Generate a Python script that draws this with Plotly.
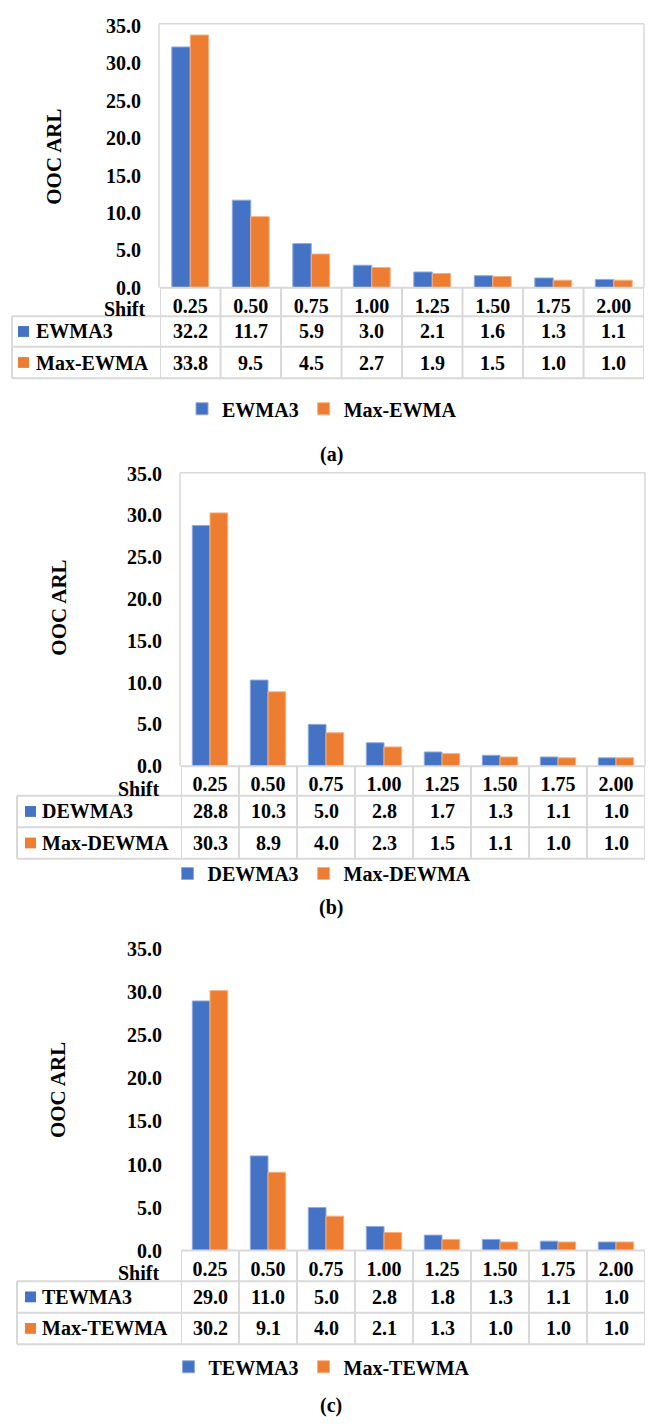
import plotly.graph_objects as go

# ---- data ----
shifts = ["0.25", "0.50", "0.75", "1.00", "1.25", "1.50", "1.75", "2.00"]

ewma3 = [32.2, 11.7, 5.9, 3.0, 2.1, 1.6, 1.3, 1.1]
max_ewma = [33.8, 9.5, 4.5, 2.7, 1.9, 1.5, 1.0, 1.0]

dewma3 = [28.8, 10.3, 5.0, 2.8, 1.7, 1.3, 1.1, 1.0]
max_dewma = [30.3, 8.9, 4.0, 2.3, 1.5, 1.1, 1.0, 1.0]

tewma3 = [29.0, 11.0, 5.0, 2.8, 1.8, 1.3, 1.1, 1.0]
max_tewma = [30.2, 9.1, 4.0, 2.1, 1.3, 1.0, 1.0, 1.0]

W, H = 654, 1428
FONT = "'Liberation Serif', 'DejaVu Serif', serif"
BLUE = "#4472C4"
ORANGE = "#ED7D31"
GRID = "#D9D9D9"


def xp(px):
    return px / W


def yp(py):
    return 1 - py / H


def bold(s):
    return f"<b>{s}</b>"


def tfont(size=20):
    return dict(family=FONT, size=size, color="black")


# panel geometry in pixels
panels = [
    dict(names=("EWMA3", "Max-EWMA"), vals=(ewma3, max_ewma), caption="(a)",
         left=160, right=644, top=13, base=281, ymax=35.3, frame=True,
         tbl_left=12, rows=(310, 341, 373), sq_x=18, lab_x=34,
         shift_xy=(147, 303), title_xy=(54, 148), legend_y=404, caption_y=450),
    dict(names=("DEWMA3", "Max-DEWMA"), vals=(dewma3, max_dewma), caption="(b)",
         left=181, right=645, top=469, base=767, ymax=35.1, frame=True,
         tbl_left=17, rows=(797, 829, 861), sq_x=25, lab_x=40,
         shift_xy=(161, 790), title_xy=(59, 606), legend_y=876, caption_y=911),
    dict(names=("TEWMA3", "Max-TEWMA"), vals=(tewma3, max_tewma), caption="(c)",
         left=181, right=645, top=953, base=1259, ymax=35.0, frame=False,
         tbl_left=17, rows=(1290, 1322, 1354), sq_x=25, lab_x=40,
         shift_xy=(161, 1282), title_xy=(58, 1096), legend_y=1377, caption_y=1416),
]

fig = go.Figure()
shapes = []
annotations = []
xs = list(range(len(shifts)))

for k, p in enumerate(panels):
    n = "" if k == 0 else str(k + 1)
    xa, ya = "x" + n, "y" + n
    leg = "legend" + n
    colors = (BLUE, ORANGE)
    edges = ("#8FAADC", "#F4B183")

    for name, vals, c, e in zip(p["names"], p["vals"], colors, edges):
        fig.add_trace(go.Bar(
            x=xs, y=vals, name=bold(name), xaxis=xa, yaxis=ya, legend=leg,
            marker=dict(color=c, line=dict(color=e, width=1)),
            hovertemplate=name + ": %{y:.1f}<extra></extra>",
        ))

    fig.update_layout(**{
        ("xaxis" + n): dict(
            domain=[xp(p["left"]), xp(p["right"])], range=[-0.5, 7.5],
            anchor=ya, tickvals=xs, ticktext=[bold(s) for s in shifts],
            showgrid=False, zeroline=False, showline=False, ticks="",
            ticklabelstandoff=4, tickfont=tfont(), fixedrange=True,
        ),
        ("yaxis" + n): dict(
            domain=[yp(p["base"]), yp(p["top"])], range=[0, p["ymax"]],
            anchor=xa, tickvals=[0, 5, 10, 15, 20, 25, 30, 35],
            ticktext=[bold(f"{v:.1f}") for v in [0, 5, 10, 15, 20, 25, 30, 35]],
            showgrid=False, zeroline=False, showline=False, ticks="",
            ticklabelstandoff=18, tickfont=tfont(), fixedrange=True,
        ),
        leg: dict(
            orientation="h", x=xp(322), xanchor="center", y=yp(p["legend_y"]),
            yanchor="middle", bgcolor="rgba(0,0,0,0)", font=tfont(),
        ),
    })

    # plot-area border
    if p["frame"]:
        for x0, y0, x1, y1 in [
            (p["left"] - 1, p["top"], p["right"], p["top"]),
            (p["left"] - 1, p["top"], p["left"] - 1, p["base"]),
            (p["right"], p["top"], p["right"], p["base"]),
        ]:
            shapes.append(dict(type="line", xref="paper", yref="paper",
                               x0=xp(x0), y0=yp(y0), x1=xp(x1), y1=yp(y1),
                               line=dict(color=GRID, width=1.5)))

    # data table grid
    r_head, r1, r2 = p["rows"]
    tl = xp(p["tbl_left"])
    shapes.append(dict(type="line", xref=xa, yref="paper", x0=-0.5, x1=7.5,
                       y0=yp(p["base"]), y1=yp(p["base"]),
                       line=dict(color=GRID, width=2)))
    for yy in (r_head, r1, r2):
        shapes.append(dict(type="line", xref="paper", yref="paper",
                           x0=tl, x1=xp(p["right"]), y0=yp(yy), y1=yp(yy),
                           line=dict(color=GRID, width=2)))
    shapes.append(dict(type="line", xref="paper", yref="paper", x0=tl, x1=tl,
                       y0=yp(r_head), y1=yp(r2), line=dict(color=GRID, width=2)))
    for i in range(len(shifts) + 1):
        shapes.append(dict(type="line", xref=xa, yref="paper",
                           x0=i - 0.5, x1=i - 0.5, y0=yp(p["base"]), y1=yp(r2),
                           line=dict(color=GRID, width=2)))

    # row labels with colour keys, and the values
    for (row_top, row_bot), name, vals, c in zip(((r_head, r1), (r1, r2)),
                                                 p["names"], p["vals"], colors):
        yc = (row_top + row_bot) / 2
        shapes.append(dict(type="rect", xref="paper", yref="paper",
                           x0=xp(p["sq_x"]), x1=xp(p["sq_x"] + 11),
                           y0=yp(yc - 5.5), y1=yp(yc + 5.5),
                           fillcolor=c, line=dict(width=0)))
        annotations.append(dict(text=bold(name), xref="paper", yref="paper",
                                x=xp(p["lab_x"]), y=yp(yc), xanchor="left",
                                yanchor="middle", showarrow=False, font=tfont()))
        for i, v in enumerate(vals):
            annotations.append(dict(text=bold(f"{v:.1f}"), xref=xa, yref="paper",
                                    x=i, y=yp(yc), xanchor="center",
                                    yanchor="middle", showarrow=False,
                                    font=tfont()))

    # "Shift" header, axis title, caption
    sx, sy = p["shift_xy"]
    annotations.append(dict(text=bold("Shift"), xref="paper", yref="paper",
                            x=xp(sx), y=yp(sy), xanchor="right", yanchor="middle",
                            showarrow=False, font=tfont()))
    tx, ty = p["title_xy"]
    annotations.append(dict(text=bold("OOC ARL"), xref="paper", yref="paper",
                            x=xp(tx), y=yp(ty), xanchor="center",
                            yanchor="middle", textangle=-90, showarrow=False,
                            font=tfont(21)))
    annotations.append(dict(text=bold(p["caption"]), xref="paper", yref="paper",
                            x=xp(331), y=yp(p["caption_y"]), xanchor="center",
                            yanchor="middle", showarrow=False, font=tfont()))

fig.update_layout(
    width=W, height=H, margin=dict(l=0, r=0, t=0, b=0),
    paper_bgcolor="white", plot_bgcolor="white",
    barmode="group", bargap=0.39, bargroupgap=0,
    shapes=shapes, annotations=annotations,
    font=dict(family=FONT, color="black"),
)

fig.write_html("out.html")
